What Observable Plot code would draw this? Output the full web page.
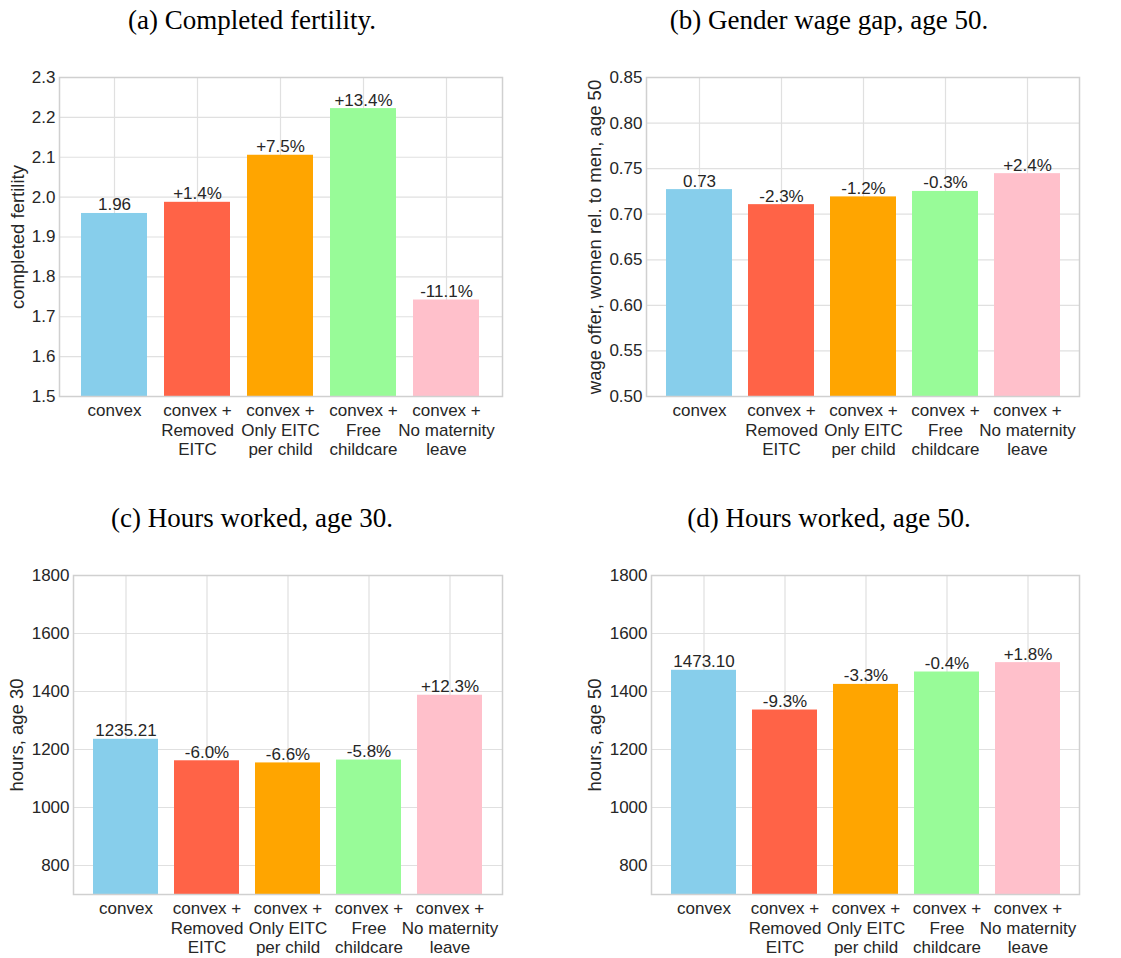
<!DOCTYPE html>
<html><head><meta charset="utf-8">
<script src="https://cdn.jsdelivr.net/npm/d3@7"></script>
<script src="https://cdn.jsdelivr.net/npm/@observablehq/plot@0.6"></script>
<style>
body{margin:0;background:#fff;}
#root{position:relative;width:1121px;height:958px;background:#fff;overflow:hidden;}
.title{position:absolute;z-index:2;font-family:"Liberation Serif","Times New Roman",serif;font-size:27px;color:#000;white-space:nowrap;transform:translateX(-50%);line-height:1;}
.panel{position:absolute;z-index:1;}
</style></head><body><div id="root"></div>
<script>
const categories = ["convex", "convex +\nRemoved\nEITC", "convex +\nOnly EITC\nper child", "convex +\nFree\nchildcare", "convex +\nNo maternity\nleave"];
const colors = ["#87CEEB", "#FF6347", "#FFA500", "#98FB98", "#FFC0CB"];

const fertility = [1.959, 1.987, 2.105, 2.222, 1.742];
const fertilityLabels = ["1.96", "+1.4%", "+7.5%", "+13.4%", "-11.1%"];
const fertilityTicks = [1.5, 1.6, 1.7, 1.8, 1.9, 2.0, 2.1, 2.2, 2.3];

const wageGap = [0.727, 0.7105, 0.719, 0.725, 0.7445];
const wageGapLabels = ["0.73", "-2.3%", "-1.2%", "-0.3%", "+2.4%"];
const wageGapTicks = [0.50, 0.55, 0.60, 0.65, 0.70, 0.75, 0.80, 0.85];

const hours30 = [1235.21, 1161.1, 1153.7, 1163.6, 1387.1];
const hours30Labels = ["1235.21", "-6.0%", "-6.6%", "-5.8%", "+12.3%"];

const hours50 = [1473.10, 1336.1, 1424.5, 1467.2, 1499.6];
const hours50Labels = ["1473.10", "-9.3%", "-3.3%", "-0.4%", "+1.8%"];
const hoursTicks = [800, 1000, 1200, 1400, 1600, 1800];

const titles = ["(a) Completed fertility.", "(b) Gender wage gap, age 50.", "(c) Hours worked, age 30.", "(d) Hours worked, age 50."];
const yLabels = ["completed fertility", "wage offer, women rel. to men, age 50", "hours, age 30", "hours, age 50"];

const root = document.getElementById("root");

function addTitle(text, cx, top) {
  const d = document.createElement("div");
  d.className = "title";
  d.textContent = text;
  d.style.left = cx + "px";
  d.style.top = top + "px";
  root.appendChild(d);
}

function panel(o) {
  const data = categories.map((c, i) => ({c, v: o.values[i], l: o.labels[i], col: colors[i]}));
  const chart = Plot.plot({
    width: o.width, height: o.height,
    marginLeft: o.mL, marginRight: o.mR, marginTop: o.mT, marginBottom: o.mB,
    style: {fontFamily: "'Liberation Sans', Arial, sans-serif", fontSize: "17px", color: "#262626", background: "transparent", overflow: "visible"},
    x: {domain: categories, paddingInner: 0.2, paddingOuter: 0.24, label: null},
    y: {domain: o.domain, label: null},
    color: {type: "identity"},
    marks: [
      Plot.gridX({stroke: "#e0e0e0", strokeOpacity: 1, strokeWidth: 1.2}),
      Plot.gridY(o.ticks, {stroke: "#e0e0e0", strokeOpacity: 1, strokeWidth: 1.2}),
      Plot.barY(data, {x: "c", y1: o.domain[0], y2: "v", fill: "col"}),
      Plot.text(data, {x: "c", y: "v", text: "l", lineAnchor: "bottom", dy: -3, fontSize: 17, fill: "#262626"}),
      Plot.frame({stroke: "#d0d0d0", strokeWidth: 1.5}),
      Plot.axisY(o.ticks, {tickSize: 0, tickPadding: 4, tickFormat: o.fmt, fontSize: 17, label: null, fill: "#262626"}),
      Plot.axisX({tickSize: 0, tickPadding: 6, lineHeight: 1.15, fontSize: 17, label: null, fill: "#262626"}),
      Plot.text([o.ylabel], {frameAnchor: "left", rotate: -90, dx: o.labelDx, text: d => d, fontSize: 18.5, textAnchor: "middle", lineAnchor: "middle", fill: "#262626"})
    ]
  });
  const wrap = document.createElement("div");
  wrap.className = "panel";
  wrap.style.left = o.left + "px";
  wrap.style.top = o.top + "px";
  wrap.appendChild(chart);
  root.appendChild(wrap);
}

panel({left: 0, top: 40, width: 560, height: 430, mL: 59, mR: 58, mT: 37, mB: 74,
  values: fertility, labels: fertilityLabels, domain: [1.5, 2.3], ticks: fertilityTicks, fmt: d3.format(".1f"),
  ylabel: yLabels[0], labelDx: -41});
panel({left: 560, top: 40, width: 561, height: 430, mL: 86, mR: 42, mT: 37, mB: 74,
  values: wageGap, labels: wageGapLabels, domain: [0.5, 0.85], ticks: wageGapTicks, fmt: d3.format(".2f"),
  ylabel: yLabels[1], labelDx: -51});
panel({left: 0, top: 530, width: 560, height: 428, mL: 73, mR: 58, mT: 45, mB: 64,
  values: hours30, labels: hours30Labels, domain: [700, 1800], ticks: hoursTicks, fmt: d3.format("d"),
  ylabel: yLabels[2], labelDx: -56});
panel({left: 560, top: 530, width: 561, height: 428, mL: 91, mR: 42, mT: 45, mB: 64,
  values: hours50, labels: hours50Labels, domain: [700, 1800], ticks: hoursTicks, fmt: d3.format("d"),
  ylabel: yLabels[3], labelDx: -56});

addTitle(titles[0], 252, 7);
addTitle(titles[1], 829, 7);
addTitle(titles[2], 252, 505);
addTitle(titles[3], 829, 505);
</script></body></html>
